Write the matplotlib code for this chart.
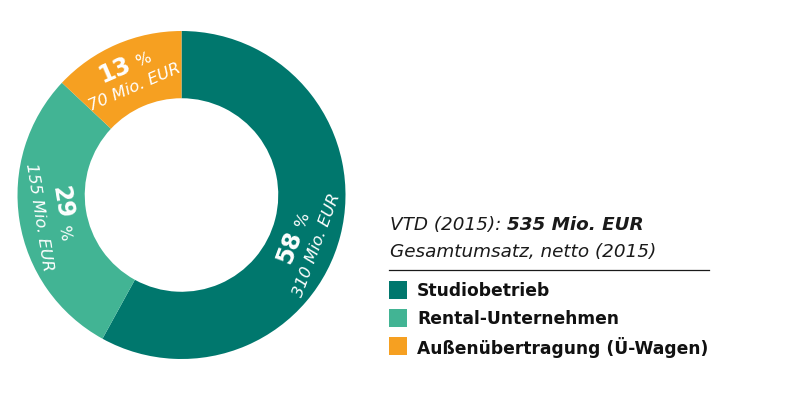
import numpy as np
import matplotlib
matplotlib.use("Agg")
import matplotlib.pyplot as plt

# data
labels = ["Studiobetrieb", "Rental-Unternehmen", "Außenübertragung (Ü-Wagen)"]
shares = [58, 29, 13]          # percent
amounts = [310, 155, 70]       # Mio. EUR
total = 535
year = 2015
colors = ["#00776d", "#42b494", "#f6a021"]

W, H = 790, 396
fig = plt.figure(figsize=(W / 100, H / 100), dpi=100)

# donut, centre at (181.5, 195) px, outer radius 164 px
cx, cy, R = 181.5, 195, 164
ax = fig.add_axes([(cx - R) / W, (H - cy - R) / H, 2 * R / W, 2 * R / H])
ax.pie(shares, colors=colors, startangle=90, counterclock=False, radius=1,
       wedgeprops=dict(width=0.41, linewidth=0))
ax.set_xlim(-1, 1)
ax.set_ylim(-1, 1)
ax.set_aspect("equal")
ax.axis("off")

# labels along the ring
unit = 1 / R                  # one pixel in data units
angle_shift = [-6, 0, 0]      # small nudge, like in the original
start = 90
for i, (s, a) in enumerate(zip(shares, amounts)):
    mid = start - s * 3.6 / 2 + angle_shift[i]
    start -= s * 3.6
    th = np.deg2rad(mid)
    rot = mid - 90
    while rot <= -90:
        rot += 180
    while rot > 90:
        rot -= 180
    rr = np.deg2rad(rot)
    t = np.array([np.cos(rr), np.sin(rr)])          # text direction
    n = np.array([-np.sin(rr), np.cos(rr)])         # text "up"
    c = 0.795 * np.array([np.cos(th), np.sin(th)])

    p = c + n * 4 * unit + t * 5 * unit
    ax.text(p[0], p[1], str(s), rotation=rot, rotation_mode="anchor",
            ha="right", va="baseline", color="white", fontsize=17,
            fontweight="bold")
    p2 = p + t * 6 * unit
    ax.text(p2[0], p2[1], "%", rotation=rot, rotation_mode="anchor",
            ha="left", va="baseline", color="white", fontsize=11.5)
    q = c - n * 18 * unit
    ax.text(q[0], q[1], f"{a} Mio. EUR", rotation=rot, rotation_mode="anchor",
            ha="center", va="baseline", color="white", fontsize=11.8,
            fontstyle="italic")


def fx(x):
    return x / W


def fy(y):
    return 1 - y / H


# header on the right
t1 = fig.text(fx(390), fy(230), f"VTD ({year}): ", fontsize=13.2,
              fontstyle="italic", va="baseline", color="#1a1a1a")
bb = t1.get_window_extent(renderer=fig.canvas.get_renderer())
fig.text(bb.x1 / W, fy(230), f"{total} Mio. EUR", fontsize=13.2,
         fontstyle="italic", fontweight="bold", va="baseline", color="#1a1a1a")
fig.text(fx(390), fy(257), f"Gesamtumsatz, netto ({year})", fontsize=13.2,
         fontstyle="italic", va="baseline", color="#1a1a1a")
fig.add_artist(plt.Line2D([fx(389), fx(709)], [fy(270), fy(270)],
                          color="#1a1a1a", linewidth=0.9))

# legend
for i, (lab, col) in enumerate(zip(labels, colors)):
    yc = 290 + 28 * i
    fig.add_artist(plt.Rectangle((fx(389), fy(yc + 9)), 18 / W, 18 / H,
                                 color=col, linewidth=0))
    fig.text(fx(417), fy(yc + 1), lab, fontsize=12.3, fontweight="bold",
             va="center", color="#111111")

fig.savefig("out.png", dpi=100)
